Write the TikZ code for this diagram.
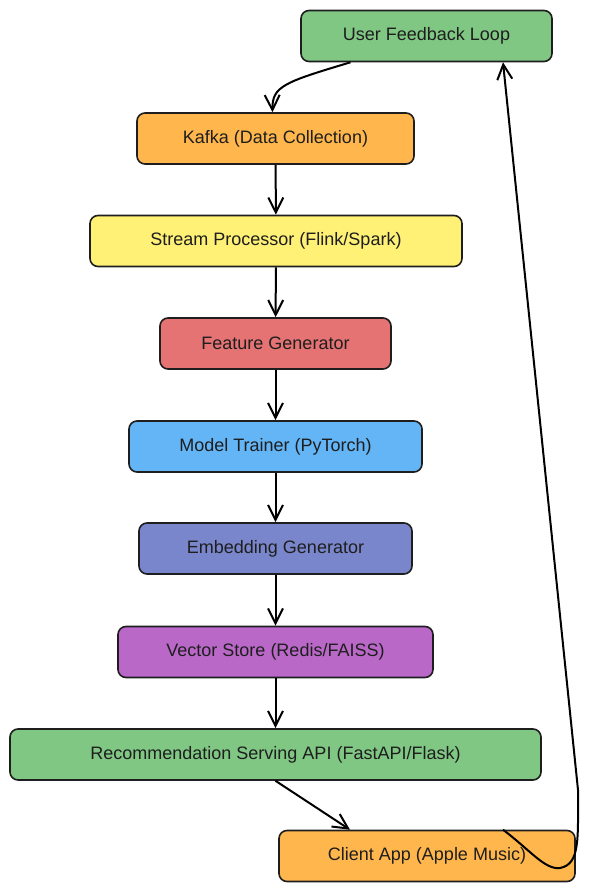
\documentclass[tikz,border=0pt]{standalone}
\usepackage{fontspec}
\setmainfont{Liberation Sans}
\usetikzlibrary{arrows.meta}
\definecolor{inkline}{HTML}{1E1E1E}
\definecolor{boxgreen}{HTML}{80C784}
\definecolor{boxorange}{HTML}{FFB74D}
\definecolor{boxyellow}{HTML}{FFF176}
\definecolor{boxred}{HTML}{E57373}
\definecolor{boxblue}{HTML}{64B5F6}
\definecolor{boxindigo}{HTML}{7986CB}
\definecolor{boxpurple}{HTML}{BA68C8}

\begin{document}
\begin{tikzpicture}[x=1pt,y=-1pt,
  box/.style={draw=inkline,line width=1.6pt,rounded corners=8pt,minimum height=51pt,
    inner sep=0pt,text=inkline,font=\fontsize{18}{20}\selectfont},
  flow/.style={draw=black,line width=2pt,-{Straight Barb[length=15pt,width=15pt,line width=2pt]}}]
  \useasboundingbox (0,0) rectangle (589,893);
  \node[box,fill=boxgreen,minimum width=251pt] (feedback) at (426.5,36) {User Feedback Loop};
  \node[box,fill=boxorange,minimum width=277pt] (kafka) at (275.5,138.5) {Kafka (Data Collection)};
  \node[box,fill=boxyellow,minimum width=372pt] (stream) at (276,241) {Stream Processor (Flink/Spark)};
  \node[box,fill=boxred,minimum width=231pt] (feature) at (275.5,343.5) {Feature Generator};
  \node[box,fill=boxblue,minimum width=293pt] (trainer) at (275.5,446.5) {Model Trainer (PyTorch)};
  \node[box,fill=boxindigo,minimum width=273pt] (embed) at (275.5,548.5) {Embedding Generator};
  \node[box,fill=boxpurple,minimum width=315pt] (vector) at (275.5,652) {Vector Store (Redis/FAISS)};
  \node[box,fill=boxgreen,minimum width=531pt] (serving) at (275.5,754.5) {Recommendation Serving API (FastAPI/Flask)};
  \node[box,fill=boxorange,minimum width=296pt] (client) at (427,856) {Client App (Apple Music)};
  % feedback back into the pipeline
  \draw[flow] ([xshift=-76pt]feedback.south) .. controls (285,82) and (272,86) .. ([xshift=-3pt]kafka.north);
  \draw[flow] (kafka) -- (stream);
  \draw[flow] (stream) -- (feature);
  \draw[flow] (feature) -- (trainer);
  \draw[flow] (trainer) -- (embed);
  \draw[flow] (embed) -- (vector);
  \draw[flow] (vector) -- (serving);
  \draw[flow] (serving.south) -- ([xshift=-77pt]client.north);
  % client loops back up
  \draw[flow] ([xshift=76pt]client.north) .. controls (530,850) and (545,870) .. (560,868)
    .. controls (580,864) and (578,840) .. (578,790) -- ([xshift=76.5pt]feedback.south);
\end{tikzpicture}
\end{document}
